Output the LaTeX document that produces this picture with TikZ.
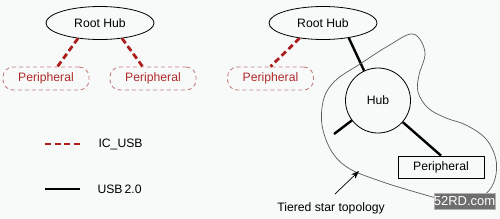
\documentclass[tikz,border=0pt]{standalone}
\usepackage{fontspec}
\setmainfont{Liberation Sans}
\usetikzlibrary{shapes.geometric,arrows.meta}
\definecolor{icred}{RGB}{172,30,30}
\definecolor{perred}{RGB}{176,42,42}
\definecolor{perline}{RGB}{196,128,128}
\definecolor{bgpaper}{RGB}{247,250,249}
\definecolor{markgray}{RGB}{110,110,110}
\tikzset{
  roothub/.style={ellipse,draw,line width=0.8pt,minimum width=108pt,minimum height=33pt,inner sep=0pt},
  icperiph/.style={draw=perline,line width=0.9pt,dash pattern=on 4pt off 3pt,rounded corners=10pt,
    text=perred,minimum width=86pt,minimum height=23pt,inner sep=0pt},
  icusb/.style={draw=icred,line width=2.8pt,dash pattern=on 6pt off 3.5pt},
  usbtwo/.style={draw=black,line width=2.4pt},
}
\begin{document}
\begin{tikzpicture}[x=1pt,y=-1pt,font=\fontsize{12.2}{14}\selectfont]
\fill[bgpaper] (0,0) rectangle (500,218);
\useasboundingbox (0,0) rectangle (500,218);
% left: IC_USB only
\node[roothub] (lroot) at (100,23) {Root Hub};
\node[icperiph] (lper1) at (46,78.5) {Peripheral};
\node[icperiph] (lper2) at (153,78.5) {Peripheral};
\draw[icusb] (lroot.-145) -- (lper1.46);
\draw[icusb] (lroot.-35) -- (lper2.131);
% right: mixed tree
\node[roothub] (rroot) at (323,23) {Root Hub};
\node[icperiph] (rper) at (270.5,78.5) {Peripheral};
\node[circle,draw,line width=0.8pt,minimum size=65pt,inner sep=0pt] (hub) at (378,100.5) {Hub};
\node[draw,line width=0.8pt,minimum width=86pt,minimum height=22pt,inner sep=0pt] (pbox) at (441,167) {Peripheral};
\coordinate (stub) at (334,134);
\draw[icusb] (rroot.-147) -- (rper.north);
\draw[usbtwo] (rroot.-30) -- (hub);
\draw[usbtwo] (hub) -- (stub);
\draw[usbtwo] (hub) -- (pbox.north);
% tier outline
\draw[line width=0.7pt,black!65] plot[smooth cycle,tension=0.6] coordinates {
  (413,34) (425,52) (419,75) (418,92) (428,108) (446,118) (466,125) (486,139)
  (496,160) (494,182) (482,197) (462,204) (440,199) (405,189) (380,181)
  (350,169) (332,152) (322,125) (324,98) (336,80) (360,64) (388,46)};
\node (tlabel) at (331,208) {Tiered star topology};
\coordinate (atail) at (335,194);
\coordinate (atip) at (359,171);
\draw[line width=0.7pt,-{Stealth[length=8pt,width=6pt]}] (atail) -- (atip);
% legend
\coordinate (lg1a) at (45,144); \coordinate (lg1b) at (80,144);
\coordinate (lg2a) at (45,189); \coordinate (lg2b) at (80,189);
\draw[icusb] (lg1a) -- (lg1b);
\draw[usbtwo] (lg2a) -- (lg2b);
\node[anchor=west] (lgic) at (95,144) {IC\_USB};
\node[anchor=west] (lgusb) at (94,189) {USB\,2.0};
% watermark
\node[fill=markgray,draw=black!30,text=white,font=\fontsize{13}{15}\selectfont,minimum width=55pt,minimum height=16pt,inner sep=0pt] (mark) at (464.5,201) {52RD.com};
\end{tikzpicture}
\end{document}
